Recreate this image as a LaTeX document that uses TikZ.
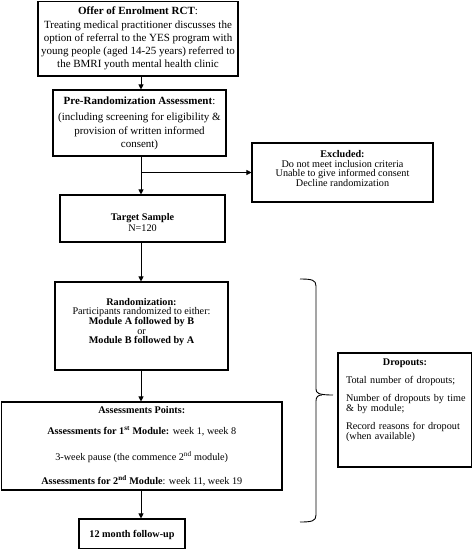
\documentclass[tikz,border=0pt]{standalone}
\usepackage{fontspec}
\setmainfont{Liberation Serif}
\usetikzlibrary{arrows.meta}
\begin{document}
\begin{tikzpicture}[x=1pt,y=-1pt,
  box/.style={draw, line width=1.1pt, inner sep=0pt},
  txt/.style={align=center, inner sep=0pt, font=\fontsize{10.2}{9.7}\selectfont},
  bigtxt/.style={align=center, inner sep=0pt, font=\fontsize{11}{13}\selectfont},
  arr/.style={line width=0.8pt, -{Triangle[length=5pt,width=5pt]}},
  brace/.style={line width=0.9pt}]
\useasboundingbox (0,0) rectangle (473,550);
\coordinate (col) at (141,0);
% boxes
\node[box, minimum width=200pt, minimum height=74.5pt] (offer) at (138,38.75) {};
\node[box, minimum width=173pt, minimum height=66pt] (pre) at (139.5,123) {};
\node[box, minimum width=181pt, minimum height=59pt] (excl) at (342.5,172.5) {};
\node[box, minimum width=165pt, minimum height=47pt] (target) at (142.5,218.5) {};
\node[box, minimum width=173pt, minimum height=88pt] (rand) at (141.5,326) {};
\node[box, minimum width=280.5pt, minimum height=88pt] (assess) at (141.75,446) {};
\node[box, minimum width=106pt, minimum height=29.5pt] (month) at (132,533.75) {};
\node[box, minimum width=133.5pt, minimum height=114pt] (drop) at (404.75,410) {};
% texts
\node[bigtxt] (offerT) at (138,38) {\textbf{Offer of Enrolment RCT}:\\[1pt]Treating medical practitioner discusses the\\option of referral to the YES program with\\young people (aged 14-25 years) referred to\\the BMRI youth mental health clinic};
\node[bigtxt, font=\fontsize{11}{13.5}\selectfont] (preT) at (139.5,123.5) {\textbf{Pre-Randomization Assessment}:\\[2.5pt](including screening for eligibility \&\\provision of written informed\\consent)};
\node[txt] (exclT) at (342.5,168.5) {\textbf{Excluded:}\\Do not meet inclusion criteria\\Unable to give informed consent\\Decline randomization};
\node[txt, font=\fontsize{10.2}{11}\selectfont] (targetT) at (142.5,222.5) {\textbf{Target Sample}\\N=120};
\node[txt] (randT) at (141.5,322) {\textbf{Randomization:}\\Participants randomized to either:\\\textbf{Module A followed by B}\\or\\\textbf{Module B followed by A}};
\node[txt] (assessT) at (141.75,446) {\textbf{Assessments Points:}\\[11pt]\textbf{Assessments for 1\textsuperscript{st} Module:} week 1, week 8\\[15pt]3-week pause (the commence 2\textsuperscript{nd} module)\\[12pt]\textbf{Assessments for 2\textsuperscript{nd} Module}: week 11, week 19};
\node[txt] (monthT) at (132,535) {\textbf{12 month follow-up}};
\node[txt, align=left, text width=125pt, font=\fontsize{10.2}{10}\selectfont] (dropT) at (408.5,400.5) {\makebox[118pt]{\textbf{Dropouts:}}\\[8pt]Total number of dropouts;\\[8pt]Number of dropouts by time\\\& by module;\\[8pt]Record reasons for dropout\\(when available)};
% connectors
\draw[arr] (offer.south -| col) -- (pre.north -| col);
\draw[arr] (pre.south -| col) -- (target.north -| col);
\draw[arr] (col |- excl.west) -- (excl.west);
\draw[arr] (target.south -| col) -- (rand.north -| col);
\draw[arr] (rand.south -| col) -- (assess.north -| col);
\draw[arr] (assess.south -| col) -- (month.north -| col);
% brace
\draw[brace] (300,279) .. controls (312,279) and (316,280) .. (316,286) -- (316,389) .. controls (316,393) and (318,395) .. (333,395);
\draw[brace] (300,522) .. controls (312,522) and (316,521) .. (316,515) -- (316,401) .. controls (316,397) and (318,395) .. (322,395);
\end{tikzpicture}
\end{document}
